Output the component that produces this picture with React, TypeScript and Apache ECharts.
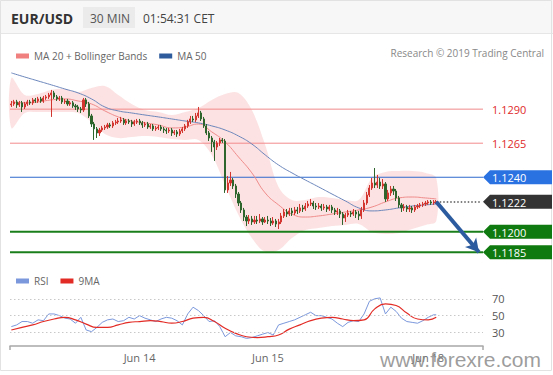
import React, { useEffect, useRef } from 'react';
import * as echarts from 'echarts';

const FONT = '"Open Sans", "DejaVu Sans", sans-serif';

// 30-minute sessions shown on the axis
const sessions = [
  { day: 'Jun 13', startHour: 0, bars: 48 },
  { day: 'Jun 14', startHour: 0, bars: 48 },
  { day: 'Jun 15', startHour: 0, bars: 48 },
  { day: 'Jun 17', startHour: 18, bars: 12 },
  { day: 'Jun 18', startHour: 0, bars: 21 },
];

const firstOpen = 1.12931;
const closes = [
  1.12938, 1.12953, 1.12931, 1.12946, 1.12916, 1.12938, 1.12953, 1.12946, 1.12968, 1.1296,
  1.12975, 1.1296, 1.12982, 1.1299, 1.13004, 1.13019, 1.1299, 1.12975, 1.12982, 1.12953,
  1.1296, 1.12938, 1.12946, 1.12924, 1.12916, 1.12901, 1.12894, 1.12968, 1.12938, 1.1285,
  1.12791, 1.12755, 1.12725, 1.12747, 1.12762, 1.12769, 1.12784, 1.12777, 1.12799, 1.12806,
  1.12813, 1.12821, 1.12799, 1.12813, 1.12806, 1.12791, 1.12806, 1.12813, 1.12799, 1.12784,
  1.12791, 1.12769, 1.12777, 1.12755, 1.12762, 1.12769, 1.12755, 1.12747, 1.1274, 1.12747,
  1.12725, 1.12733, 1.12718, 1.1274, 1.12755, 1.12777, 1.12806, 1.12828, 1.12821, 1.1285,
  1.12872, 1.12828, 1.12777, 1.12725, 1.12688, 1.12659, 1.12622, 1.12652, 1.12674, 1.12666,
  1.12307, 1.12358, 1.1238, 1.12336, 1.12277, 1.12211, 1.1216, 1.12108, 1.12079, 1.12094,
  1.12072, 1.12086, 1.12079, 1.12094, 1.12072, 1.12086, 1.12079, 1.12064, 1.12079, 1.12057,
  1.12072, 1.12116, 1.12145, 1.1213, 1.12153, 1.12138, 1.1216, 1.12153, 1.12175, 1.12167,
  1.12189, 1.12204, 1.12211, 1.12189, 1.12182, 1.12189, 1.12175, 1.12182, 1.12167, 1.12182,
  1.1216, 1.12145, 1.12153, 1.1213, 1.12101, 1.12123, 1.12138, 1.1213, 1.12145, 1.1213,
  1.12116, 1.1216, 1.12211, 1.1227, 1.12321, 1.12358, 1.12343, 1.12365, 1.12336, 1.12351,
  1.12241, 1.12285, 1.12314, 1.12299, 1.12248, 1.12197, 1.12175, 1.12182, 1.12167, 1.12175,
  1.1216, 1.12182, 1.12189, 1.12197, 1.12204, 1.12211, 1.12219, 1.12211, 1.12219, 1.1222,
];
const highs = [
  1.1296, 1.12968, 1.12968, 1.1296, 1.1296, 1.12953, 1.12968, 1.12968, 1.12982, 1.12982,
  1.1299, 1.1299, 1.12997, 1.13004, 1.13019, 1.13041, 1.13034, 1.13004, 1.12997, 1.12997,
  1.12975, 1.12975, 1.1296, 1.1296, 1.12938, 1.12931, 1.12916, 1.12982, 1.12982, 1.12953,
  1.12865, 1.12806, 1.12769, 1.12762, 1.12777, 1.12784, 1.12799, 1.12799, 1.12813, 1.12821,
  1.12835, 1.12843, 1.12835, 1.12828, 1.12828, 1.12821, 1.12821, 1.12828, 1.12828, 1.12813,
  1.12806, 1.12806, 1.12791, 1.12791, 1.12777, 1.12784, 1.12784, 1.12769, 1.12762, 1.12762,
  1.12762, 1.12747, 1.12747, 1.12755, 1.12769, 1.12791, 1.12821, 1.1285, 1.1285, 1.12872,
  1.12916, 1.12887, 1.12843, 1.12791, 1.1274, 1.12703, 1.12674, 1.12666, 1.12688, 1.12688,
  1.12681, 1.12409, 1.12439, 1.12395, 1.12351, 1.12292, 1.12226, 1.12175, 1.12123, 1.12123,
  1.12116, 1.12116, 1.12116, 1.1213, 1.12108, 1.12108, 1.12116, 1.12101, 1.12108, 1.12094,
  1.12094, 1.12138, 1.12167, 1.12167, 1.12175, 1.12175, 1.12182, 1.12182, 1.12204, 1.12197,
  1.12211, 1.12226, 1.12241, 1.12226, 1.12211, 1.12211, 1.12204, 1.12204, 1.12197, 1.12197,
  1.12197, 1.12175, 1.12175, 1.12167, 1.12145, 1.12138, 1.1216, 1.12153, 1.12167, 1.1216,
  1.12153, 1.12182, 1.12233, 1.12292, 1.12343, 1.12395, 1.12468, 1.12417, 1.12395, 1.12387,
  1.12365, 1.12307, 1.12336, 1.12336, 1.12314, 1.12263, 1.12211, 1.12204, 1.12197, 1.12197,
  1.12189, 1.12197, 1.12204, 1.12211, 1.12219, 1.12226, 1.12233, 1.12233, 1.12233, 1.12233,
];
const lows = [
  1.12916, 1.12924, 1.12909, 1.12916, 1.12879, 1.12901, 1.12924, 1.12931, 1.12931, 1.12946,
  1.12946, 1.12946, 1.12946, 1.12968, 1.12975, 1.12843, 1.12975, 1.1296, 1.1296, 1.12938,
  1.12938, 1.12924, 1.12924, 1.12909, 1.12894, 1.12879, 1.12872, 1.12879, 1.12916, 1.12835,
  1.12769, 1.12674, 1.12688, 1.12703, 1.12733, 1.12747, 1.12755, 1.12762, 1.12762, 1.12784,
  1.12791, 1.12799, 1.12784, 1.12784, 1.12791, 1.12769, 1.12777, 1.12791, 1.12784, 1.12762,
  1.12769, 1.12755, 1.12755, 1.1274, 1.1274, 1.12747, 1.1274, 1.12725, 1.12718, 1.12725,
  1.12703, 1.1271, 1.12696, 1.12703, 1.12725, 1.1274, 1.12762, 1.12791, 1.12806, 1.12806,
  1.12835, 1.12813, 1.12762, 1.1271, 1.12666, 1.12586, 1.1252, 1.126, 1.1263, 1.12652,
  1.12285, 1.12285, 1.12336, 1.12314, 1.12248, 1.12189, 1.12138, 1.12079, 1.12042, 1.12057,
  1.1205, 1.12057, 1.12057, 1.12064, 1.1205, 1.12064, 1.12057, 1.12042, 1.1205, 1.12035,
  1.1202, 1.12057, 1.12101, 1.12108, 1.12116, 1.12116, 1.12123, 1.1213, 1.12138, 1.12145,
  1.12153, 1.12175, 1.12189, 1.12167, 1.1216, 1.12167, 1.12153, 1.1216, 1.12145, 1.12153,
  1.12138, 1.12123, 1.12123, 1.12101, 1.1205, 1.12072, 1.12108, 1.12108, 1.12116, 1.12101,
  1.12086, 1.12094, 1.12145, 1.12197, 1.12255, 1.12307, 1.12321, 1.12321, 1.12314, 1.12314,
  1.12219, 1.12226, 1.12263, 1.1227, 1.12226, 1.12175, 1.12145, 1.12153, 1.12145, 1.12145,
  1.12138, 1.12145, 1.12167, 1.12175, 1.12182, 1.12189, 1.12197, 1.12197, 1.12197, 1.12204,
];

// Indicator readings, sampled at these bar indices
const bandIdx = [0, 5, 10, 15, 20, 25, 30, 35, 40, 45, 50, 55, 60, 65, 70, 75, 80, 85, 90, 95, 100, 105, 110, 115, 120, 125, 130, 135, 140, 145, 150, 155, 159];
const ma20 = [1.12953, 1.12946, 1.12953, 1.12968, 1.12975, 1.1296, 1.12938, 1.12887, 1.12843, 1.12813, 1.12799, 1.12784, 1.12762, 1.12769, 1.12791, 1.12733, 1.12659, 1.12549, 1.12432, 1.12285, 1.12197, 1.1213, 1.12108, 1.12116, 1.1213, 1.12145, 1.1216, 1.12182, 1.12219, 1.12248, 1.12255, 1.12248, 1.12241];
const ma50 = [1.13166, 1.13136, 1.13107, 1.13078, 1.13048, 1.13019, 1.12975, 1.12916, 1.12887, 1.12872, 1.12857, 1.12843, 1.12828, 1.12813, 1.12799, 1.12777, 1.12747, 1.12703, 1.12644, 1.12564, 1.1249, 1.12432, 1.1238, 1.12329, 1.12277, 1.12226, 1.12175, 1.12153, 1.1216, 1.12175, 1.12189, 1.12197, 1.12204];
const bbUpper = [1.13129, 1.13004, 1.13012, 1.13041, 1.13048, 1.13026, 1.13056, 1.1307, 1.13004, 1.12938, 1.12894, 1.12879, 1.12857, 1.12879, 1.12909, 1.12968, 1.13012, 1.13019, 1.12894, 1.12637, 1.12329, 1.12233, 1.12233, 1.12255, 1.12248, 1.12233, 1.12233, 1.12395, 1.12439, 1.12446, 1.12446, 1.12432, 1.12395];
const bbLower = [1.12762, 1.12872, 1.12879, 1.12879, 1.12879, 1.12872, 1.12806, 1.12718, 1.12688, 1.12696, 1.12703, 1.12696, 1.12681, 1.12674, 1.12674, 1.12564, 1.12343, 1.12123, 1.11954, 1.11852, 1.11866, 1.11954, 1.12013, 1.12028, 1.12042, 1.1205, 1.12057, 1.11998, 1.11984, 1.11991, 1.1202, 1.1205, 1.12079];

// RSI [bar index, value]
const rsiPoints = [
  [0, 37], [2, 39], [4, 43], [6, 43], [8, 41], [10, 45], [12, 44], [14, 52], [16, 52], [18, 50],
  [20, 47], [22, 46], [24, 41], [26, 48], [28, 33], [30, 31], [32, 36], [34, 42], [36, 45], [38, 46],
  [40, 43], [42, 44], [44, 48], [46, 46], [48, 50], [50, 47], [52, 45], [54, 43], [56, 46], [58, 48],
  [60, 47], [62, 44], [64, 39], [66, 52], [68, 60], [70, 56], [72, 50], [74, 43], [76, 44], [78, 37],
  [80, 25], [82, 30], [84, 26], [86, 25], [88, 23], [90, 24], [92, 26], [94, 28], [96, 30], [98, 27],
  [100, 39], [102, 41], [104, 43], [106, 45], [108, 48], [110, 51], [112, 54], [114, 50], [116, 50], [118, 48],
  [120, 46], [122, 41], [124, 37], [126, 42], [128, 44], [130, 43], [132, 52], [134, 67], [136, 70], [138, 71],
  [140, 52], [142, 60], [144, 55], [146, 47], [148, 43], [150, 42], [152, 41], [154, 44], [156, 48], [158, 51],
  [159, 51],
];
const rsiMaPoints = [
  [0, 33], [4, 36], [8, 39], [12, 43], [16, 46], [20, 48], [24, 45], [28, 40], [32, 36], [36, 36],
  [40, 39], [44, 42], [48, 43], [52, 44], [56, 43], [60, 41], [64, 43], [68, 47], [72, 48], [76, 43],
  [80, 35], [84, 29], [88, 25], [92, 24], [96, 25], [100, 27], [104, 34], [108, 39], [112, 44], [116, 47],
  [120, 48], [124, 46], [128, 44], [132, 45], [136, 58], [140, 64], [144, 62], [148, 53], [152, 46], [156, 45],
  [159, 48],
];
const rsiLevels = [70, 50, 30];

const resistanceLevels = [1.129, 1.1265];
const pivotLevel = 1.124;
const supportLevels = [1.12, 1.1185];
const targetBarsAhead = 16;

const COLORS = {
  up: '#d3352f',
  down: '#2d652d',
  band: 'rgba(246,150,150,0.28)',
  ma20: '#ef8a8a',
  ma20Legend: '#f07f7f',
  ma50: '#6b86bb',
  ma50Legend: '#2d5b9b',
  resistance: '#f28a8a',
  resistanceText: '#e02a2a',
  pivot: '#2f68cc',
  pivotBox: '#2a72e2',
  support: '#1a7f1a',
  supportBox: '#0f7a0f',
  last: '#333333',
  arrow: '#2c5c9f',
  rsi: '#7b98dc',
  rsiMa: '#e22b25',
};

export default function App() {
  const ref = useRef<HTMLDivElement>(null);

  useEffect(() => {
    if (!ref.current) return;
    const chart = echarts.init(ref.current, undefined, { renderer: 'svg' });

    const categories: string[] = [];
    sessions.forEach((s) => {
      for (let b = 0; b < s.bars; b++) {
        const m = s.startHour * 60 + b * 30;
        const hh = String(Math.floor(m / 60)).padStart(2, '0');
        const mm = m % 60 === 0 ? '00' : '30';
        categories.push(`${s.day} ${hh}:${mm}`);
      }
    });
    const n = categories.length;
    const candles = closes.map((c, i) => [i === 0 ? firstOpen : closes[i - 1], c, lows[i], highs[i]]);
    const lastIdx = closes.length - 1;
    const lastPrice = closes[lastIdx];

    const levelDefs = [
      ...resistanceLevels.map((v) => ({ v, color: COLORS.resistance, width: 1 })),
      { v: pivotLevel, color: COLORS.pivot, width: 1 },
      ...supportLevels.map((v) => ({ v, color: COLORS.support, width: 2 })),
    ];
    const levelSeries = levelDefs.map((d, k) => ({
      name: `level-${k}`,
      type: 'line',
      xAxisIndex: 2,
      yAxisIndex: 0,
      data: [[-0.5, d.v], [n - 0.5, d.v]],
      showSymbol: false,
      symbol: 'none',
      silent: true,
      z: 2,
      lineStyle: { color: d.color, width: d.width, type: 'solid' },
      itemStyle: { color: d.color },
    }));

    const pointerLines: any[] = [
      [
        { coord: [lastIdx, lastPrice] },
        { coord: [n - 1, lastPrice], lineStyle: { color: '#555', width: 1.5, type: [1.5, 2] } },
      ],
      [
        { coord: [lastIdx, lastPrice] },
        {
          coord: [lastIdx + targetBarsAhead, supportLevels[1]],
          symbol: 'arrow',
          symbolSize: [11, 13],
          lineStyle: { color: COLORS.arrow, width: 4, type: 'solid' },
        },
      ],
    ];

    const option: any = {
      animation: false,
      textStyle: { fontFamily: FONT },
      grid: [
        { left: 10, right: 70, top: 65, height: 197 },
        { left: 10, right: 70, top: 292, height: 54 },
      ],
      xAxis: [
        { type: 'category', gridIndex: 0, data: categories, show: false, boundaryGap: true },
        {
          type: 'category',
          gridIndex: 1,
          data: categories,
          boundaryGap: true,
          axisLine: { lineStyle: { color: '#a8a8a8', width: 1.5 } },
          axisTick: { show: true, interval: (i: number) => i === 0, length: 4, lineStyle: { color: '#a8a8a8', width: 1.5 } },
          axisLabel: {
            interval: (i: number, v: string) => i > 0 && v.endsWith('00:00'),
            formatter: (v: string) => v.slice(0, 6),
            color: '#666',
            fontSize: 11,
            margin: 6,
            fontFamily: FONT,
          },
          splitLine: { show: false },
        },
        { type: 'value', gridIndex: 0, min: -0.5, max: n - 0.5, show: false },
        { type: 'value', gridIndex: 1, min: -0.5, max: n - 0.5, show: false },
      ],
      yAxis: [
        { type: 'value', gridIndex: 0, min: 1.11778, max: 1.13224, show: false },
        { type: 'value', gridIndex: 1, min: 14, max: 78, show: false },
      ],
      legend: [
        {
          left: 11,
          top: 46,
          icon: 'rect',
          itemWidth: 13,
          itemHeight: 5,
          itemGap: 12,
          selectedMode: false,
          textStyle: { color: '#666', fontSize: 10, fontFamily: FONT },
          data: [
            { name: 'MA 20 + Bollinger Bands', itemStyle: { color: COLORS.ma20Legend } },
            { name: 'MA 50', itemStyle: { color: COLORS.ma50Legend } },
          ],
        },
        {
          left: 11,
          top: 271,
          icon: 'rect',
          itemWidth: 13,
          itemHeight: 5,
          itemGap: 12,
          selectedMode: false,
          textStyle: { color: '#666', fontSize: 10, fontFamily: FONT },
          data: [
            { name: 'RSI', itemStyle: { color: COLORS.rsi } },
            { name: '9MA', itemStyle: { color: COLORS.rsiMa } },
          ],
        },
      ],
      series: [
        {
          name: 'Bollinger Bands',
          type: 'custom',
          xAxisIndex: 2,
          yAxisIndex: 0,
          silent: true,
          z: 1,
          data: bandIdx.map((i, k) => [i, bbUpper[k], bbLower[k]]),
          renderItem: (params: any, api: any) => {
            if (params.dataIndex !== 0) return null;
            const up = bandIdx.map((i, k) => api.coord([i, bbUpper[k]]));
            const lo = bandIdx.map((i, k) => api.coord([i, bbLower[k]])).reverse();
            return {
              type: 'polygon',
              shape: { points: up.concat(lo), smooth: 0.35 },
              style: { fill: COLORS.band, stroke: 'none' },
            };
          },
        },
        ...levelSeries,
        {
          name: 'MA 20 + Bollinger Bands',
          type: 'line',
          xAxisIndex: 2,
          yAxisIndex: 0,
          data: bandIdx.map((i, k) => [i, ma20[k]]),
          smooth: true,
          showSymbol: false,
          lineStyle: { color: COLORS.ma20, width: 1 },
          itemStyle: { color: COLORS.ma20 },
          z: 2,
          silent: true,
        },
        {
          name: 'MA 50',
          type: 'line',
          xAxisIndex: 2,
          yAxisIndex: 0,
          data: bandIdx.map((i, k) => [i, ma50[k]]),
          smooth: true,
          showSymbol: false,
          lineStyle: { color: COLORS.ma50, width: 1 },
          itemStyle: { color: COLORS.ma50 },
          z: 2,
          silent: true,
        },
        {
          name: 'EUR/USD',
          type: 'candlestick',
          xAxisIndex: 0,
          yAxisIndex: 0,
          data: candles,
          barWidth: 1.6,
          z: 3,
          itemStyle: {
            color: COLORS.up,
            color0: COLORS.down,
            borderColor: COLORS.up,
            borderColor0: COLORS.down,
            borderWidth: 1,
          },
          markLine: {
            silent: true,
            symbol: 'none',
            precision: 5,
            label: { show: false },
            emphasis: { disabled: true },
            data: pointerLines,
          },
        },
        {
          name: 'RSI',
          type: 'line',
          xAxisIndex: 3,
          yAxisIndex: 1,
          data: rsiPoints,
          showSymbol: false,
          lineStyle: { color: COLORS.rsi, width: 1 },
          itemStyle: { color: COLORS.rsi },
          silent: true,
          clip: false,
          markLine: {
            silent: true,
            symbol: 'none',
            precision: 0,
            lineStyle: { color: '#c8c8c8', width: 1, type: [1.5, 2.5] },
            label: {
              show: true,
              position: 'end',
              distance: 9,
              formatter: '{c}',
              color: '#555',
              fontSize: 11,
              fontFamily: FONT,
            },
            data: rsiLevels.map((v) => ({ yAxis: v })),
          },
        },
        {
          name: '9MA',
          type: 'line',
          xAxisIndex: 3,
          yAxisIndex: 1,
          data: rsiMaPoints,
          smooth: true,
          showSymbol: false,
          lineStyle: { color: COLORS.rsiMa, width: 1.2 },
          itemStyle: { color: COLORS.rsiMa },
          silent: true,
        },
      ],
    };

    chart.setOption(option);

    const yOf = (v: number) => chart.convertToPixel({ yAxisIndex: 0 }, v) as number;
    const boxLeft = 483;
    const boxRight = 552;
    const box = (v: number, color: string) => {
      const y = yOf(v);
      return [
        {
          type: 'polygon',
          z: 50,
          shape: {
            points: [
              [boxLeft, y],
              [boxLeft + 7, y - 7],
              [boxRight, y - 7],
              [boxRight, y + 7],
              [boxLeft + 7, y + 7],
            ],
          },
          style: { fill: color },
        },
        {
          type: 'text',
          z: 51,
          x: 492,
          y: y + 0.5,
          style: { text: v.toFixed(4), fill: '#fff', fontSize: 11, fontFamily: FONT, verticalAlign: 'middle', align: 'left' },
        },
      ];
    };
    const plain = (v: number) => ({
      type: 'text',
      z: 51,
      x: 492,
      y: yOf(v) + 0.5,
      style: { text: v.toFixed(4), fill: COLORS.resistanceText, fontSize: 11, fontFamily: FONT, verticalAlign: 'middle', align: 'left' },
    });

    const graphics: any[] = [
      { type: 'rect', z: -10, shape: { x: 0, y: 0, width: 553, height: 33 }, style: { fill: '#f7f7f7' } },
      { type: 'line', z: -9, shape: { x1: 0, y1: 33.5, x2: 553, y2: 33.5 }, style: { stroke: '#e6e6e6', lineWidth: 1 } },
      { type: 'rect', z: -8, shape: { x: 0.5, y: 0.5, width: 551, height: 370 }, style: { fill: 'none', stroke: '#e2e2e2', lineWidth: 1 } },
      {
        type: 'text', x: 11, y: 18,
        style: { text: 'EUR/USD', fill: '#333', fontSize: 14, fontWeight: 'bold', fontFamily: FONT, verticalAlign: 'middle' },
      },
      { type: 'rect', z: -5, shape: { x: 83, y: 7, width: 52, height: 21 }, style: { fill: '#ebebeb' } },
      {
        type: 'text', x: 90, y: 18,
        style: { text: '30 MIN', fill: '#555', fontSize: 12, fontFamily: FONT, verticalAlign: 'middle' },
      },
      {
        type: 'text', x: 143, y: 18,
        style: { text: '01:54:31 CET', fill: '#444', fontSize: 12, fontFamily: FONT, verticalAlign: 'middle' },
      },
      {
        type: 'text', x: 544, y: 53,
        style: { text: 'Research © 2019 Trading Central', fill: '#888', fontSize: 10, fontFamily: FONT, verticalAlign: 'middle', align: 'right' },
      },
      ...resistanceLevels.map((v) => plain(v)),
      ...box(pivotLevel, COLORS.pivotBox),
      ...box(lastPrice, COLORS.last),
      ...supportLevels.flatMap((v) => box(v, COLORS.supportBox)),
      {
        type: 'text', z: 100, x: 380, y: 359,
        style: {
          text: 'www.forexre.com',
          fill: 'rgba(140,140,140,0.85)',
          fontSize: 21,
          fontFamily: '"Liberation Sans", Arial, sans-serif',
          verticalAlign: 'middle',
          align: 'left',
        },
      },
    ];

    chart.setOption({ graphic: graphics });

    return () => chart.dispose();
  }, []);

  return (
    <div
      ref={ref}
      style={{ position: 'absolute', left: 0, top: 0, width: 553, height: 375, background: '#fff' }}
    />
  );
}
